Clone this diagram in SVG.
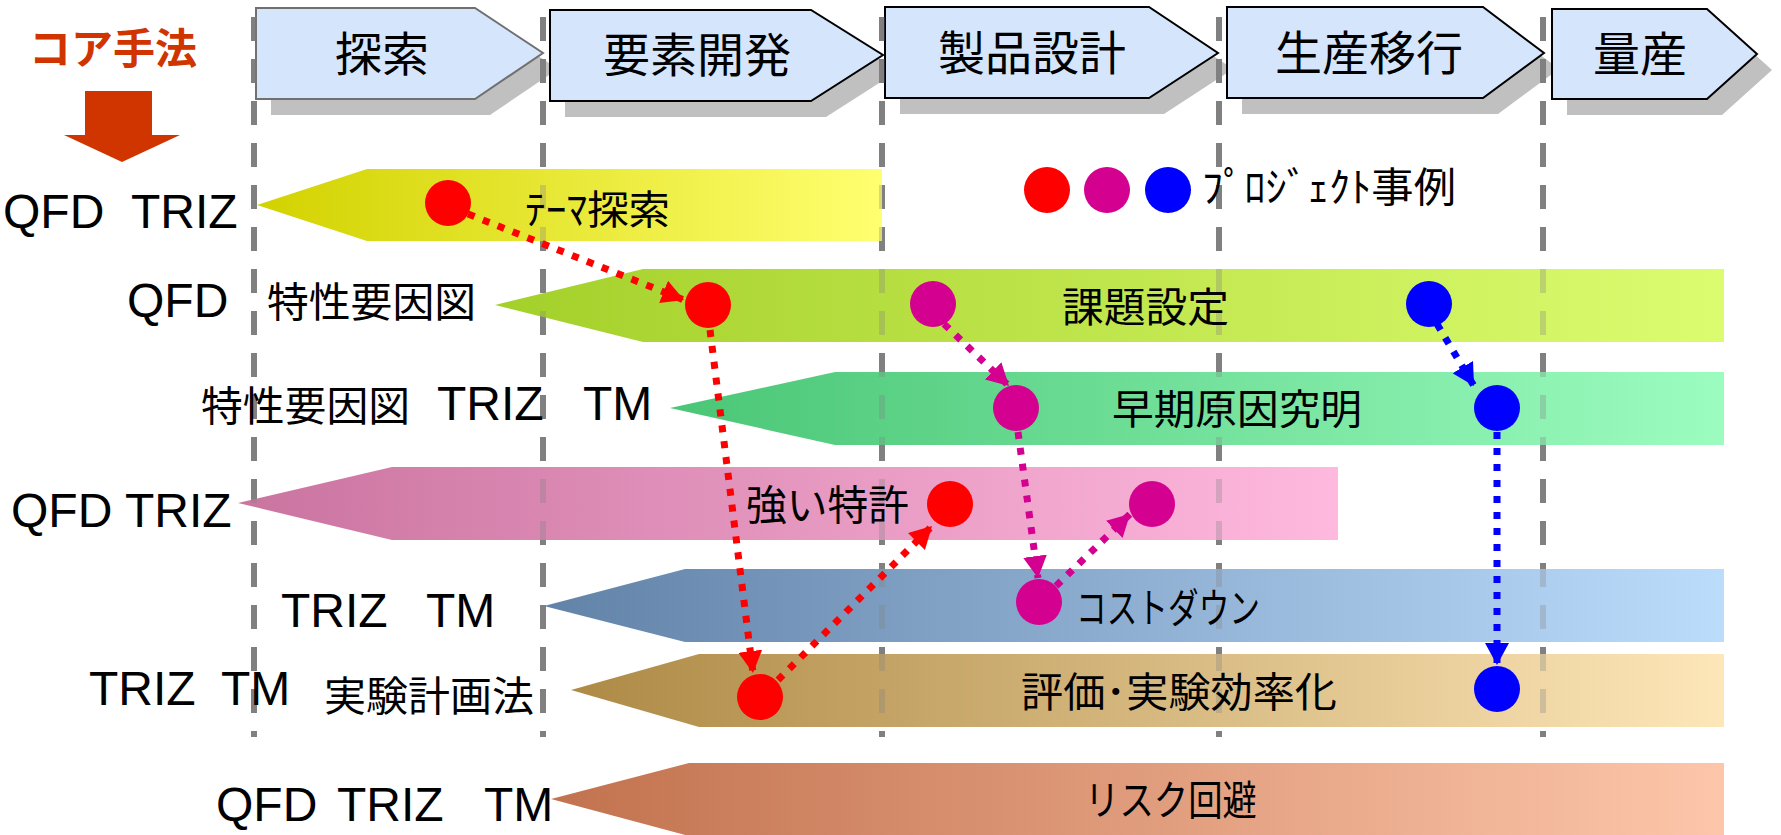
<svg xmlns="http://www.w3.org/2000/svg" width="1781" height="835" viewBox="0 0 1781 835">
<style>
.jp{font-family:"Noto Sans CJK JP","Noto Sans",sans-serif;fill:#000}
.lt{font-family:"Liberation Sans",Arial,sans-serif;font-size:48px;fill:#000}
.hd{font-family:"Noto Sans CJK JP",sans-serif;font-size:47px;fill:#000;text-anchor:middle}
.sh{fill:#c0c0c0}
.ch{fill:#d5e6fc;stroke:#000;stroke-width:2}
.vl{stroke:#808080;stroke-width:6;stroke-dasharray:24 18;fill:none}
.vlf{stroke:#808080;stroke-width:6;stroke-dasharray:24 18;fill:none;stroke-opacity:0.3}
.ar{fill:none;stroke-width:7;stroke-dasharray:7 9}
</style>
<defs>
<linearGradient id="gY" x1="0" x2="1" y1="0" y2="0"><stop offset="0" stop-color="#d2d200"/><stop offset="1" stop-color="#ffff70"/></linearGradient>
<linearGradient id="gG1" x1="0" x2="1" y1="0" y2="0"><stop offset="0" stop-color="#a4d02a"/><stop offset="1" stop-color="#dcfc70"/></linearGradient>
<linearGradient id="gG2" x1="0" x2="1" y1="0" y2="0"><stop offset="0" stop-color="#4ac676"/><stop offset="1" stop-color="#9cfcc0"/></linearGradient>
<linearGradient id="gP" x1="0" x2="1" y1="0" y2="0"><stop offset="0" stop-color="#ca74a0"/><stop offset="1" stop-color="#ffb9de"/></linearGradient>
<linearGradient id="gB" x1="0" x2="1" y1="0" y2="0"><stop offset="0" stop-color="#6283a8"/><stop offset="1" stop-color="#bcdcfc"/></linearGradient>
<linearGradient id="gT" x1="0" x2="1" y1="0" y2="0"><stop offset="0" stop-color="#ae8a46"/><stop offset="1" stop-color="#fde6b8"/></linearGradient>
<linearGradient id="gS" x1="0" x2="1" y1="0" y2="0"><stop offset="0" stop-color="#c2724e"/><stop offset="1" stop-color="#fdc6aa"/></linearGradient>
<marker id="mR" markerUnits="userSpaceOnUse" markerWidth="22" markerHeight="24" viewBox="0 0 22 24" refX="22" refY="12" orient="auto"><path d="M0,0 L22,12 L0,24 z" fill="#ff0000"/></marker>
<marker id="mM" markerUnits="userSpaceOnUse" markerWidth="22" markerHeight="24" viewBox="0 0 22 24" refX="22" refY="12" orient="auto"><path d="M0,0 L22,12 L0,24 z" fill="#d4008f"/></marker>
<marker id="mB" markerUnits="userSpaceOnUse" markerWidth="22" markerHeight="24" viewBox="0 0 22 24" refX="22" refY="12" orient="auto"><path d="M0,0 L22,12 L0,24 z" fill="#0000ff"/></marker>
</defs>
<rect width="1781" height="835" fill="#fff"/>

<g id="core-label">
<text class="jp" x="29" y="64" font-size="42" font-weight="bold" style="fill:#d03500" textLength="168" lengthAdjust="spacingAndGlyphs">コア手法</text>
<polygon points="85,91 152,91 152,135 180,135 122,162 64,135 85,135" fill="#d03500"/>
</g>

<g id="phase-shadows">
<polygon class="sh" points="271,24 490,24 558,69 490,115 271,115"/>
<polygon class="sh" points="565,26 826,26 898,71 826,117 565,117"/>
<polygon class="sh" points="900,23 1164,23 1233,69 1164,114 900,114"/>
<polygon class="sh" points="1242,23 1498,23 1559,69 1498,114 1242,114"/>
<polygon class="sh" points="1567,25 1722,25 1772,70 1722,115 1567,115"/>
</g>

<g id="grid">
<line class="vl" x1="254" y1="17" x2="254" y2="737"/>
<line class="vl" x1="543" y1="17" x2="543" y2="737"/>
<line class="vl" x1="882" y1="17" x2="882" y2="737"/>
<line class="vl" x1="1219" y1="17" x2="1219" y2="737"/>
<line class="vl" x1="1543" y1="17" x2="1543" y2="737"/>
</g>

<g id="phase-1"><polygon class="ch" style="stroke:#707070" points="256,8 475,8 543,53 475,99 256,99"/><text class="hd" x="382" y="71">探索</text></g>
<g id="phase-2"><polygon class="ch" points="550,10 811,10 883,55 811,101 550,101"/><text class="hd" x="697" y="72">要素開発</text></g>
<g id="phase-3"><polygon class="ch" points="885,7 1149,7 1218,53 1149,98 885,98"/><text class="hd" x="1032" y="70">製品設計</text></g>
<g id="phase-4"><polygon class="ch" points="1227,7 1483,7 1544,53 1483,98 1227,98"/><text class="hd" x="1369" y="70">生産移行</text></g>
<g id="phase-5"><polygon class="ch" points="1552,9 1707,9 1757,54 1707,99 1552,99"/><text class="hd" x="1640" y="71">量産</text></g>

<g id="bar-theme"><polygon fill="url(#gY)" points="257,205 367,169 882,169 882,241 367,241"/></g>
<g id="bar-issue"><polygon fill="url(#gG1)" points="495,305 643,269 1724,269 1724,342 643,342"/></g>
<g id="bar-cause"><polygon fill="url(#gG2)" points="670,408 835,372 1724,372 1724,445 835,445"/></g>
<g id="bar-patent"><polygon fill="url(#gP)" points="238,503 392,467 1338,467 1338,540 392,540"/></g>
<g id="bar-cost"><polygon fill="url(#gB)" points="544,606 685,569 1724,569 1724,642 685,642"/></g>
<g id="bar-eval"><polygon fill="url(#gT)" points="571,690 699,654 1724,654 1724,727 699,727"/></g>
<g id="bar-risk"><polygon fill="url(#gS)" points="551,799 689,763 1724,763 1724,836 689,836"/></g>

<g id="grid-faint">
<line class="vlf" x1="254" y1="17" x2="254" y2="737"/>
<line class="vlf" x1="543" y1="17" x2="543" y2="737"/>
<line class="vlf" x1="882" y1="17" x2="882" y2="737"/>
<line class="vlf" x1="1219" y1="17" x2="1219" y2="737"/>
<line class="vlf" x1="1543" y1="17" x2="1543" y2="737"/>
</g>

<g id="bar-labels">
<text class="jp" x="525" y="224" font-size="40" textLength="145" lengthAdjust="spacingAndGlyphs">ﾃｰﾏ探索</text>
<text class="jp" x="1062" y="322" font-size="41" textLength="167" lengthAdjust="spacingAndGlyphs">課題設定</text>
<text class="jp" x="1112" y="424" font-size="41" textLength="250" lengthAdjust="spacingAndGlyphs">早期原因究明</text>
<text class="jp" x="746" y="520" font-size="41" textLength="163" lengthAdjust="spacingAndGlyphs">強い特許</text>
<text class="jp" x="1076" y="623" font-size="41" textLength="184" lengthAdjust="spacingAndGlyphs">コストダウン</text>
<text class="jp" x="1021" y="707" font-size="41" textLength="316" lengthAdjust="spacingAndGlyphs">評価･実験効率化</text>
<text class="jp" x="1085" y="815" font-size="41" textLength="172" lengthAdjust="spacingAndGlyphs">リスク回避</text>
</g>

<g id="method-labels">
<text class="lt" x="3" y="228">QFD</text><text class="lt" x="131" y="228">TRIZ</text>
<text class="lt" x="127" y="317">QFD</text>
<text class="jp" x="267" y="317" font-size="41" textLength="209" lengthAdjust="spacingAndGlyphs">特性要因図</text>
<text class="jp" x="201" y="421" font-size="41" textLength="209" lengthAdjust="spacingAndGlyphs">特性要因図</text>
<text class="lt" x="437" y="420">TRIZ</text><text class="lt" x="583" y="420">TM</text>
<text class="lt" x="11" y="527">QFD</text><text class="lt" x="125" y="527">TRIZ</text>
<text class="lt" x="281" y="627">TRIZ</text><text class="lt" x="426" y="627">TM</text>
<text class="lt" x="89" y="705">TRIZ</text><text class="lt" x="221" y="705">TM</text>
<text class="jp" x="324" y="711" font-size="41" textLength="210" lengthAdjust="spacingAndGlyphs">実験計画法</text>
<text class="lt" x="216" y="821">QFD</text><text class="lt" x="337" y="821">TRIZ</text><text class="lt" x="484" y="821">TM</text>
</g>

<g id="legend">
<ellipse cx="1047" cy="190" rx="23" ry="23" fill="#ff0000"/>
<ellipse cx="1107" cy="190" rx="23" ry="23" fill="#d4008f"/>
<ellipse cx="1168" cy="190" rx="23" ry="23" fill="#0000ff"/>
<text class="jp" x="1202" y="202" font-size="41" textLength="254" lengthAdjust="spacingAndGlyphs">ﾌﾟﾛｼﾞｪｸﾄ事例</text>
</g>

<g id="connectors">
<path class="ar" stroke="#ff0000" marker-end="url(#mR)" d="M468,214 L684,300"/>
<path class="ar" stroke="#ff0000" marker-end="url(#mR)" d="M710,330 L753,673"/>
<path class="ar" stroke="#ff0000" marker-end="url(#mR)" d="M778,680 L932,526"/>
<path class="ar" stroke="#d4008f" marker-end="url(#mM)" d="M944,324 L1009,386"/>
<path class="ar" stroke="#d4008f" marker-end="url(#mM)" d="M1018,432 L1038,578"/>
<path class="ar" stroke="#d4008f" marker-end="url(#mM)" d="M1056,586 L1130,514"/>
<path class="ar" stroke="#0000ff" marker-end="url(#mB)" d="M1437,324 L1474,386"/>
<path class="ar" stroke="#0000ff" marker-end="url(#mB)" d="M1497,432 L1497,665"/>
</g>

<g id="project-red">
<ellipse cx="448" cy="203" rx="23" ry="23" fill="#ff0000"/>
<ellipse cx="708" cy="305" rx="23" ry="23" fill="#ff0000"/>
<ellipse cx="950" cy="504" rx="23" ry="23" fill="#ff0000"/>
<ellipse cx="760" cy="697" rx="23" ry="23" fill="#ff0000"/>
</g>
<g id="project-magenta">
<ellipse cx="933" cy="304" rx="23" ry="23" fill="#d4008f"/>
<ellipse cx="1016" cy="408" rx="23" ry="23" fill="#d4008f"/>
<ellipse cx="1152" cy="504" rx="23" ry="23" fill="#d4008f"/>
<ellipse cx="1039" cy="602" rx="23" ry="23" fill="#d4008f"/>
</g>
<g id="project-blue">
<ellipse cx="1429" cy="304" rx="23" ry="23" fill="#0000ff"/>
<ellipse cx="1497" cy="408" rx="23" ry="23" fill="#0000ff"/>
<ellipse cx="1497" cy="689" rx="23" ry="23" fill="#0000ff"/>
</g>
</svg>
